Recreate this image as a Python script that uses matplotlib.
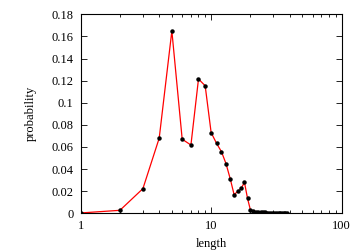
import matplotlib
matplotlib.use("Agg")
import matplotlib.pyplot as plt
from matplotlib.ticker import LogLocator, FixedLocator, NullFormatter

plt.rcParams["font.family"] = ["Liberation Serif", "DejaVu Serif"]
plt.rcParams["font.size"] = 9

# word length vs probability
lengths = list(range(1, 39))
probability = [
    0.0003, 0.0027, 0.0223, 0.068, 0.165, 0.067, 0.0618, 0.1215, 0.1154, 0.073,
    0.0633, 0.0557, 0.0449, 0.0313, 0.0168, 0.0199, 0.0226, 0.028, 0.0135, 0.003,
    0.0024, 0.0015, 0.0012, 0.0010, 0.0009, 0.0008, 0.0007, 0.0006, 0.0006, 0.0005,
    0.0005, 0.0004, 0.0004, 0.0003, 0.0003, 0.0003, 0.0002, 0.0002,
]
y_ticks = [0, 0.02, 0.04, 0.06, 0.08, 0.1, 0.12, 0.14, 0.16, 0.18]
y_tick_labels = ["0", "0.02", "0.04", "0.06", "0.08", "0.1", "0.12", "0.14", "0.16", "0.18"]

fig = plt.figure(figsize=(3.6, 2.52), dpi=100)
ax = fig.add_axes([0.224, 0.1536, 0.725, 0.7894])

ax.plot(lengths, probability, color="red", linewidth=0.9, zorder=2)
ax.plot(lengths, probability, linestyle="none", marker="o", markersize=2.2,
        color="black", zorder=3)

ax.set_xscale("log")
ax.set_xlim(1, 100)
ax.set_ylim(0, 0.18)
ax.xaxis.set_major_locator(FixedLocator([1, 10, 100]))
ax.set_xticklabels(["1", "10", "100"])
ax.xaxis.set_minor_locator(LogLocator(base=10, subs=range(2, 10)))
ax.xaxis.set_minor_formatter(NullFormatter())
ax.set_yticks(y_ticks)
ax.set_yticklabels(y_tick_labels)

ax.tick_params(which="both", direction="in", top=True, right=True, width=0.6)
ax.tick_params(which="major", length=4, pad=5)
ax.tick_params(which="minor", length=2)
for s in ax.spines.values():
    s.set_linewidth(0.8)

ax.set_xlabel("length", labelpad=4)
ax.set_ylabel("probability", labelpad=11)

fig.savefig("out.png", dpi=100)
